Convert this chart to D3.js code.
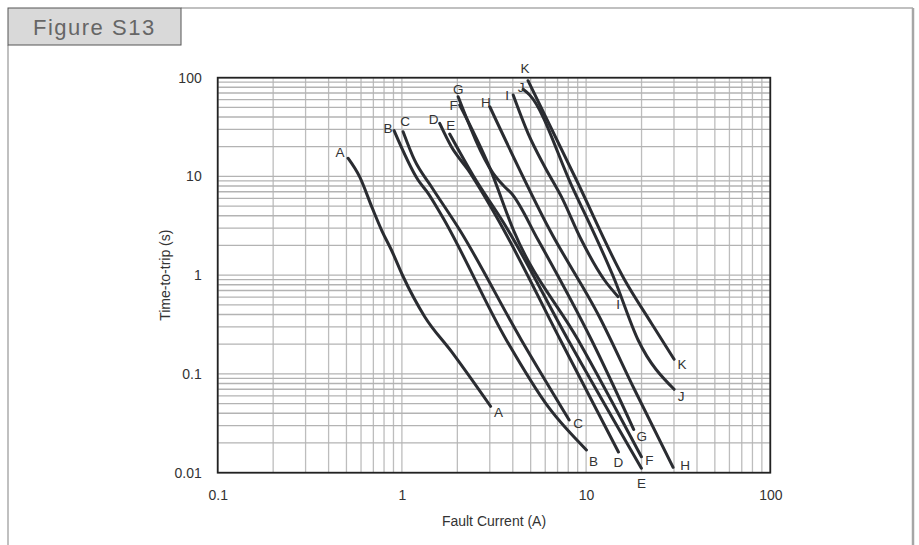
<!DOCTYPE html>
<html><head><meta charset="utf-8">
<script src="https://cdn.jsdelivr.net/npm/d3@7"></script>
<style>
body{margin:0;background:#fff;}
svg{display:block;font-family:Arial,"Liberation Sans",sans-serif;}
</style>
</head><body>
<svg id="chart" width="919" height="545"></svg>
<script>
// ---- data: [fault current (A), time-to-trip (s)] ----
const curveNames = ["A","B","C","D","E","F","G","H","I","J","K"];
const curveA = [[0.51,15.3],[0.59,9.9],[0.69,4.8],[0.78,2.8],[0.877,1.8],[1.015,0.97],[1.33,0.38],[1.86,0.168],[3.03,0.047]];
const curveB = [[0.907,29.1],[1.224,9.2],[1.388,6.75],[1.638,4.07],[3.69,0.221],[6.22,0.0466],[10.04,0.017]];
const curveC = [[1.015,28.4],[1.17,14.7],[1.446,7.87],[2.06,2.87],[4.45,0.221],[8.09,0.0342]];
const curveD = [[1.604,34.5],[1.857,20.0],[2.288,11.62],[3.26,3.91],[7.25,0.2207],[14.98,0.0162]];
const curveE = [[1.818,26.9],[2.445,10.1],[3.60,3.30],[7.99,0.2207],[19.96,0.0111]];
const curveF = [[2.06,52.9],[3.0,12.2],[4.03,2.87],[9.05,0.2207],[19.96,0.0145]];
const curveG = [[2.02,64.2],[3.13,10.76],[3.61,7.87],[3.93,6.75],[5.49,2.27],[10.7,0.2207],[18.13,0.0274]];
const curveH = [[3.0,50.8],[6.35,2.87],[11.8,0.380],[18.36,0.0688],[29.67,0.01134]];
const curveI = [[4.02,66.8],[4.84,27.35],[5.96,12.55],[7.34,6.24],[9.43,2.27],[12.57,0.894],[14.92,0.606]];
const curveJ = [[4.55,76.3],[4.94,66.8],[8.32,8.19],[14.3,0.894],[19.16,0.2207],[30.04,0.0699]];
const curveK = [[4.84,93.2],[8.86,9.2],[16.2,0.894],[22.62,0.326],[30.04,0.1407]];
const curveData = [curveA,curveB,curveC,curveD,curveE,curveF,curveG,curveH,curveI,curveJ,curveK];

const xTicks = [0.1,1,10,100];
const yTicks = [0.01,0.1,1,10,100];
const xTickLabels = ["0.1","1","10","100"];
const yTickLabels = ["0.01","0.1","1","10","100"];
const xTitle = "Fault Current (A)";
const yTitle = "Time-to-trip (s)";
const figTitle = "Figure S13";

// ---- label placement (pixel offsets from curve start / end) ----
const startOffsets = {A:[-8,-6],B:[-6,-2],C:[2,-10],D:[-6,-4],E:[1,-9],F:[-6,0],G:[0,-7],H:[-4,-4],I:[-6,0],J:[-2,-2],K:[-3,-12]};
const endOffsets   = {A:[8,6],B:[7,12],C:[9,4],D:[0,10],E:[0,15],F:[8,4],G:[8,7],H:[12,-2],I:[0,8],J:[7,7],K:[8,5]};

const svg = d3.select("#chart");
const W = 919, H = 545;
const plot = {left:217.7, right:770.3, top:77.7, bottom:472.7};

const x = d3.scaleLog().domain([0.1,100]).range([plot.left, plot.right]);
const y = d3.scaleLog().domain([0.01,100]).range([plot.bottom, plot.top]);

// outer frame
svg.append("line").attr("x1",181).attr("y1",8).attr("x2",913).attr("y2",8).attr("stroke","#ababab").attr("stroke-width",1.5);
svg.append("line").attr("x1",913).attr("y1",8).attr("x2",913).attr("y2",H).attr("stroke","#a6a6a6").attr("stroke-width",2.5);
svg.append("line").attr("x1",8).attr("y1",45).attr("x2",8).attr("y2",H).attr("stroke","#ababab").attr("stroke-width",1.5);
svg.append("rect").attr("x",8).attr("y",8).attr("width",173).attr("height",37)
  .attr("fill","#d9d9d9").attr("stroke","#555").attr("stroke-width",1);
svg.append("text").attr("x",33).attr("y",35).attr("font-size",22).attr("letter-spacing",1.5)
  .attr("fill","#666").text(figTitle);

// grid values
const gridX = [], gridY = [];
for (let e=-1;e<2;e++) for (let k=1;k<=9;k++) gridX.push(k*Math.pow(10,e));
gridX.push(100);
for (let e=-2;e<2;e++) for (let k=1;k<=9;k++) gridY.push(k*Math.pow(10,e));
gridY.push(100);

const g = svg.append("g");
g.selectAll("line.gx").data(gridX).join("line").attr("class","gx")
  .attr("x1",d=>x(d)).attr("x2",d=>x(d)).attr("y1",plot.top).attr("y2",plot.bottom)
  .attr("stroke","#bdbdbd").attr("stroke-width",1.3);
g.selectAll("line.gy").data(gridY).join("line").attr("class","gy")
  .attr("y1",d=>y(d)).attr("y2",d=>y(d)).attr("x1",plot.left).attr("x2",plot.right)
  .attr("stroke","#b3b3b3").attr("stroke-width",1.3);

// curves
const line = d3.line().x(d=>x(d[0])).y(d=>y(d[1])).curve(d3.curveMonotoneX);
svg.append("g").selectAll("path").data(curveData).join("path")
  .attr("d",line).attr("fill","none").attr("stroke","#2a2c31").attr("stroke-width",3)
  .attr("stroke-linecap","round").attr("stroke-linejoin","round");

// plot border
svg.append("rect").attr("x",plot.left).attr("y",plot.top)
  .attr("width",plot.right-plot.left).attr("height",plot.bottom-plot.top)
  .attr("fill","none").attr("stroke","#222").attr("stroke-width",1.8);

// curve labels
const lab = svg.append("g").attr("font-size",13.5).attr("fill","#333").attr("text-anchor","middle").attr("dominant-baseline","central");
curveNames.forEach((n,i)=>{
  const d = curveData[i];
  const s = d[0], e = d[d.length-1];
  lab.append("text").attr("x",x(s[0])+startOffsets[n][0]).attr("y",y(s[1])+startOffsets[n][1]).text(n);
  lab.append("text").attr("x",x(e[0])+endOffsets[n][0]).attr("y",y(e[1])+endOffsets[n][1]).text(n);
});

// axes
const yAxis = d3.axisLeft(y).tickValues(yTicks).tickFormat((d,i)=>yTickLabels[i]).tickSize(0).tickPadding(16);
const ya = svg.append("g").attr("transform",`translate(${plot.left},0)`).call(yAxis);
const xAxis = d3.axisBottom(x).tickValues(xTicks).tickFormat((d,i)=>xTickLabels[i]).tickSize(0).tickPadding(17);
const xa = svg.append("g").attr("transform",`translate(0,${plot.bottom})`).call(xAxis);
[ya,xa].forEach(a=>{
  a.select(".domain").remove();
  a.selectAll("text").attr("font-size",14).attr("fill","#333").attr("font-family","Arial, 'Liberation Sans', sans-serif");
});

svg.append("text").attr("x",(plot.left+plot.right)/2).attr("y",526).attr("text-anchor","middle")
  .attr("font-size",14).attr("fill","#333").text(xTitle);
svg.append("text").attr("transform",`translate(170,${(plot.top+plot.bottom)/2}) rotate(-90)`)
  .attr("text-anchor","middle").attr("font-size",14).attr("fill","#333").text(yTitle);
</script>
</body></html>
